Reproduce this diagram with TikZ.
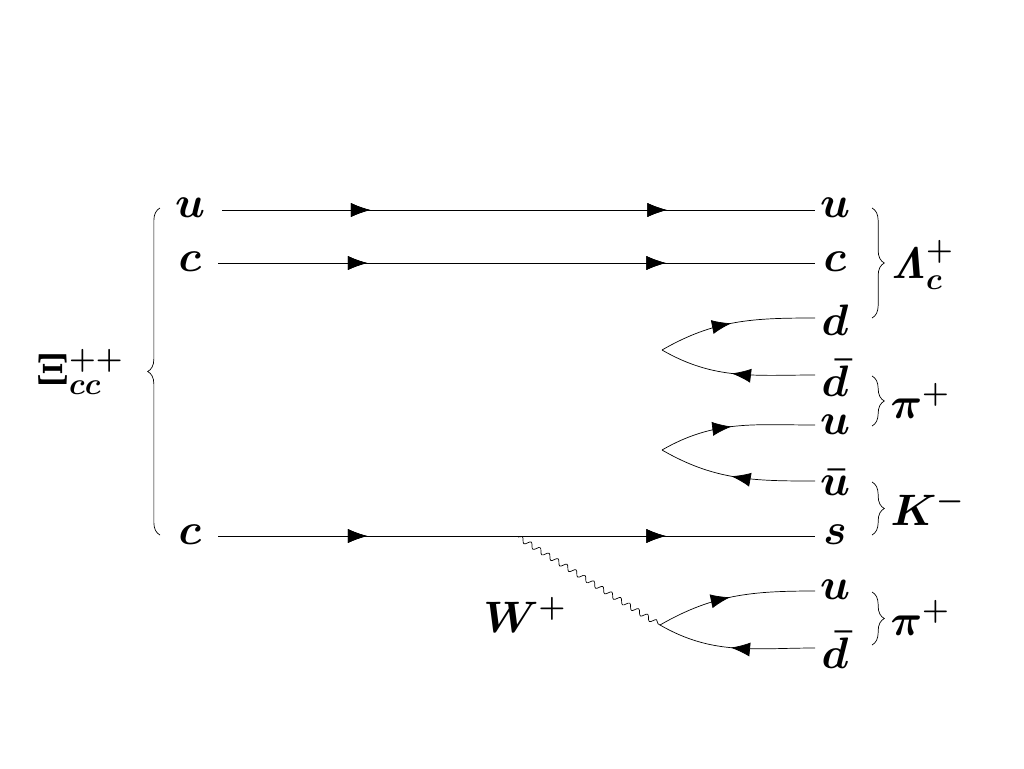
\documentclass[tikz,border=0pt]{standalone}
\usepackage{amsmath,bm}
\usetikzlibrary{decorations.markings,decorations.pathmorphing,decorations.pathreplacing}
\usetikzlibrary{arrows.meta}
\tikzset{
  quark/.style={postaction={decorate},decoration={markings,
    mark=at position #1 with {\arrow{Latex[length=11pt,width=8pt]}}}},
  quark/.default=0.5,
  boson/.style={decorate,decoration={snake,amplitude=1.5pt,segment length=6pt}},
  lab/.style={font=\LARGE,scale=1.45,inner sep=0pt},
  grp/.style={decorate,decoration={brace,amplitude=7pt}}
}
\begin{document}
\begin{tikzpicture}[x=0.02cm,y=-0.02cm]
  \useasboundingbox (0,0) rectangle (1024,768);
  % incoming quarks
  \node[lab] (iu) at (190,208) {$\bm{u}$};
  \node[lab] (ic1) at (190,262) {$\bm{c}$};
  \node[lab] (ic2) at (190,535) {$\bm{c}$};
  \node[lab] (xi) at (80,372) {$\bm{\Xi_{cc}^{++}}$};
  % outgoing quarks
  \node[lab] (ou) at (835,208) {$\bm{u}$};
  \node[lab] (oc) at (835,262) {$\bm{c}$};
  \node[lab] (od) at (835,320) {$\bm{d}$};
  \node[lab] (odb) at (835,378) {$\bm{\bar d}$};
  \node[lab] (ou2) at (835,425) {$\bm{u}$};
  \node[lab] (oub) at (835,482) {$\bm{\bar u}$};
  \node[lab] (os) at (835,535) {$\bm{s}$};
  \node[lab] (ou3) at (835,590) {$\bm{u}$};
  \node[lab] (odb2) at (835,650) {$\bm{\bar d}$};
  % vertices
  \coordinate (v1) at (662,350);
  \coordinate (v2) at (662,450);
  \coordinate (v3) at (660,625);
  \coordinate (w) at (518,537);

  % spectator lines
  \draw[quark=0.25,quark=0.75] (222,210) -- (815,210);
  \draw[quark=0.25,quark=0.75] (218,263) -- (815,263);
  \draw[quark=0.25,quark=0.75] (218,536) -- (815,536);

  % pairs
  \draw[quark=0.47] (v1) to[out=30,in=180] (815,318);
  \draw[quark=0.53] (815,375) to[in=-30,out=180] (v1);
  \draw[quark=0.47] (v2) to[out=30,in=180] (815,425);
  \draw[quark=0.53] (815,481) to[in=-30,out=180] (v2);
  \draw[quark=0.47] (v3) to[out=30,in=180] (815,591);
  \draw[quark=0.53] (815,648) to[in=-30,out=180] (v3);

  % W boson
  \draw[boson] (w) -- (v3);
  \node[lab] (wl) at (525,615) {$\bm{W^+}$};

  % braces
  \draw[grp] (160,535) -- (160,208);
  \draw[grp] (872,208) -- (872,318);
  \node[lab,anchor=west] (lc) at (890,265) {$\bm{\mathit{\Lambda}_c^+}$};
  \draw[grp] (872,376) -- (872,426);
  \node[lab,anchor=west] (p1) at (890,401) {$\bm{\pi^+}$};
  \draw[grp] (872,482) -- (872,535);
  \node[lab,anchor=west] (km) at (890,508) {$\bm{K^-}$};
  \draw[grp] (872,592) -- (872,645);
  \node[lab,anchor=west] (p2) at (890,618) {$\bm{\pi^+}$};
\end{tikzpicture}
\end{document}
